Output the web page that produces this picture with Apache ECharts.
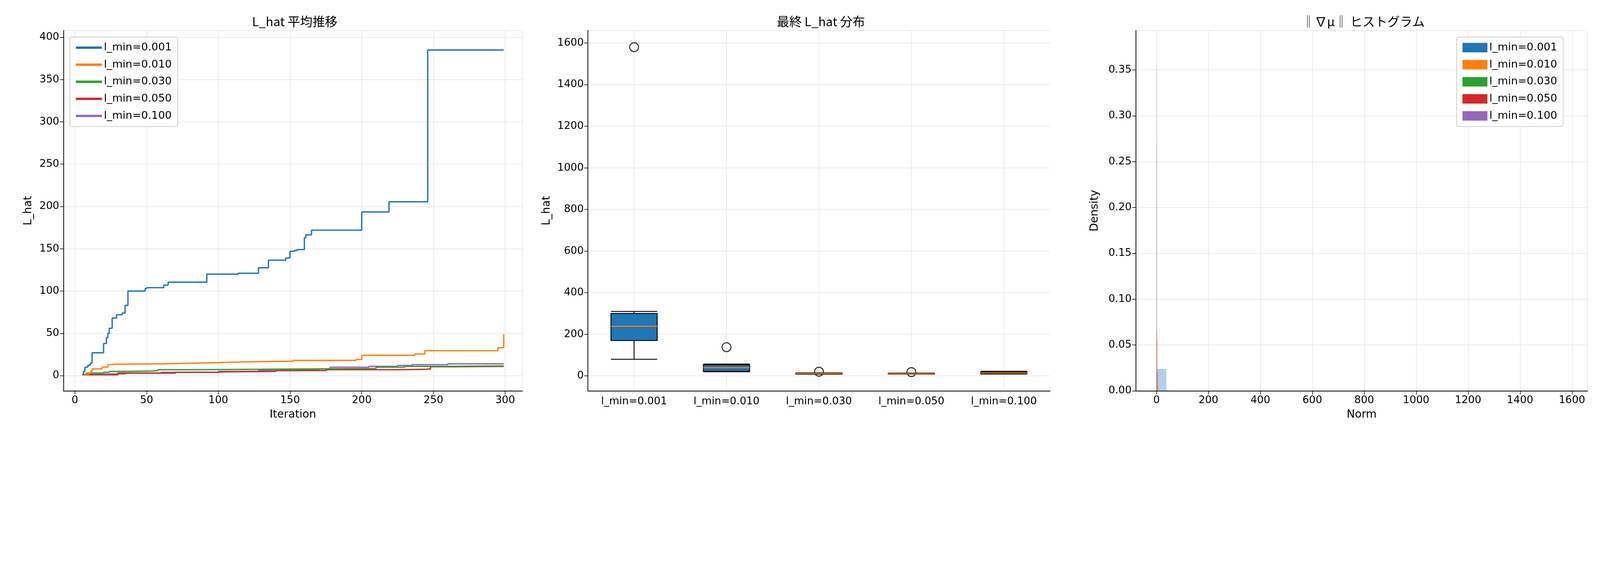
<!DOCTYPE html>
<html><head><meta charset="utf-8">
<script src="https://cdn.jsdelivr.net/npm/echarts@6/dist/echarts.min.js"></script>
<style>html,body{margin:0;background:#fff;overflow:hidden}#main{width:100vw;height:100vh}</style>
</head><body><div id="main"></div>
<script>
var names = ['l_min=0.001','l_min=0.010','l_min=0.030','l_min=0.050','l_min=0.100'];
var colors = ['#1f77b4','#ff7f0e','#2ca02c','#d62728','#9467bd'];
// step change points [iteration, L_hat]
var line001 = [[5,1],[6,5],[7,10],[9,12],[10,13],[11,15],[12,27],[20,38],[22,45],[23,50],[24,56],[26,68],[29,72],[33,74],[35,83],[37,100],[49,103],[50,104],[62,107],[65,110.5],[92,120],[114,121],[128,127.5],[135,136.5],[147,139],[150,147],[153,148],[155,149],[160,163],[161,166.5],[165,172],[200,193.5],[219,205.5],[246,385],[299,385]];
var line010 = [[5,1],[7,2],[10,3],[11,5],[12,8],[19,10],[23,13],[26,13.5],[27,14],[61,14.5],[75,15],[93,15.5],[100,16],[112,16.5],[128,17],[152,18],[196,19],[200,24],[237,25.5],[244,29.5],[295,33],[299,49]];
var line030 = [[5,1],[8,3],[20,4],[24,5],[35,5.5],[54,6],[58,7],[80,7.5],[130,8],[175,8.5],[210,10],[230,11],[265,11.5],[299,11.5]];
var line050 = [[5,1],[30,3],[70,4],[100,4.5],[105,5],[140,6],[175,7],[225,7.5],[245,8],[248,10.5],[265,11],[299,11]];
var line100 = [[5,1],[10,2],[35,3],[60,4],[100,5],[128,6],[155,7],[170,8],[178,10],[205,11],[225,12],[235,13],[260,14],[299,14]];
var lines = [line001,line010,line030,line050,line100];
// boxplot [min,Q1,median,Q3,max]
var boxStats = [[80,170,238,300,310],[20,22,40,53,57],[8,9,11,13,14],[8,9,10,12,13],[9,10,14,19,22]];
var outliers = [[0,1580],[1,138],[2,20],[3,18]];
// histogram bins [left,right,density]
var hist001 = [[0,38,0.024],[38,76,0.0004]];
var hist010 = [[0,2,0.062],[2,4,0.055],[4,6,0.02],[6,8,0.008],[8,10,0.003]];
var hist030 = [[0,1,0.355],[1,2,0.02]];
var hist050 = [[0,1,0.27],[1,2,0.062],[2,3,0.02]];
var hist100 = [[0,1,0.2],[1,2,0.03]];
var hists = [hist001,hist010,hist030,hist050,hist100];

var W = window.innerWidth, H = window.innerHeight, s = W / 5400;
var FONT = 'DejaVu Sans';
var tk = {fontSize:35*s,color:'#000',fontFamily:FONT};
function px(v){return v*s;}
var grids = [{left:px(214),top:px(103),width:px(1549),height:px(1216)},
  {left:px(1984),top:px(103),width:px(1560),height:px(1216)},
  {left:px(3833),top:px(103),width:px(1525),height:px(1216)}];
function ax(o,lab){
  return Object.assign({type:'value',axisLine:{show:true,onZero:false,lineStyle:{color:'#000',width:2.5*s}},
    axisTick:{show:true,length:12*s,lineStyle:{color:'#000',width:2*s}},axisLabel:Object.assign({margin:14*s},tk,lab||{}),
    splitLine:{show:true,lineStyle:{color:'#e5e5e5',width:2*s}},nameLocation:'middle',
    nameTextStyle:{fontSize:37*s,color:'#000',fontFamily:FONT}},o);
}
var series = [];
lines.forEach(function(d,i){
  series.push({type:'line',name:names[i],xAxisIndex:0,yAxisIndex:0,data:d,step:'end',symbol:'none',lineStyle:{width:4.5*s,color:colors[i]},itemStyle:{color:colors[i]},z:10-i});
});
// vertical grid lines at category centres
series.push({type:'custom',xAxisIndex:1,yAxisIndex:1,data:names.map(function(n,i){return [i,0];}),z:0,silent:true,
  renderItem:function(p,api){
    var c=api.coord([api.value(0),0]),cs=p.coordSys;
    return {type:'line',shape:{x1:c[0],y1:cs.y,x2:c[0],y2:cs.y+cs.height},style:{stroke:'#e5e5e5',lineWidth:2*s}};
  },encode:{x:0,y:1}});
series.push({type:'boxplot',xAxisIndex:1,yAxisIndex:1,data:boxStats,boxWidth:['50%','50%'],itemStyle:{color:'#1f77b4',borderColor:'#000',borderWidth:3*s}});
series.push({type:'custom',xAxisIndex:1,yAxisIndex:1,data:boxStats.map(function(b,i){return [i,b[2]];}),z:5,renderItem:function(p,api){
  var w=api.size([1,0])[0]*0.5,c=api.coord([api.value(0),api.value(1)]);
  return {type:'line',shape:{x1:c[0]-w/2,y1:c[1],x2:c[0]+w/2,y2:c[1]},style:{stroke:'#ff7f0e',lineWidth:3.5*s}};
},encode:{x:0,y:1}});
series.push({type:'scatter',xAxisIndex:1,yAxisIndex:1,data:outliers,symbol:'circle',symbolSize:30*s,itemStyle:{color:'rgba(0,0,0,0)',borderColor:'#000',borderWidth:3.5*s}});
hists.forEach(function(d,i){
  series.push({type:'custom',name:names[i],xAxisIndex:2,yAxisIndex:2,data:d,itemStyle:{color:colors[i],opacity:0.35},
    encode:{x:[0,1],y:2},renderItem:function(p,api){
      var a=api.coord([api.value(0),api.value(2)]),b=api.coord([api.value(1),0]);
      return {type:'rect',shape:{x:a[0],y:a[1],width:Math.max(b[0]-a[0],1.5*s),height:b[1]-a[1]},style:{fill:colors[i],opacity:0.35}};
    }});
});
var legBase = {orient:'vertical',itemGap:22*s,textStyle:{fontSize:36*s,color:'#000',fontFamily:FONT},backgroundColor:'#fff',borderColor:'#ccc',borderWidth:2.5*s,borderRadius:6*s,padding:[18*s,20*s,18*s,20*s]};
var tStyle = {fontSize:42*s,fontWeight:'normal',color:'#000',fontFamily:'Noto Sans CJK JP'};
function every(n){return function(v){return Math.abs(v/n-Math.round(v/n))<1e-6?String(v):'';};}
var option = {
  animation:false,
  title:[
    {text:'L_hat 平均推移',left:px(988),top:px(45),textAlign:'center',textStyle:tStyle},
    {text:'最終 L_hat 分布',left:px(2764),top:px(45),textAlign:'center',textStyle:tStyle},
    {text:'‖∇μ‖ ヒストグラム',left:px(4595),top:px(45),textAlign:'center',textStyle:tStyle}
  ],
  legend:[
    Object.assign({left:px(236),top:px(125),data:names.slice(),itemWidth:88*s,itemHeight:8*s,icon:'rect'},legBase),
    Object.assign({left:px(4916),top:px(125),data:names.slice(),itemWidth:84*s,itemHeight:32*s,icon:'rect'},legBase)
  ],
  grid:grids,
  xAxis:[
    ax({gridIndex:0,min:-8,max:312,splitNumber:7,name:'Iteration',nameGap:62*s},{showMinLabel:false,showMaxLabel:false,formatter:every(50)}),
    {type:'category',gridIndex:1,data:names,boundaryGap:true,axisLine:{onZero:false,lineStyle:{color:'#000',width:2.5*s}},
      axisTick:{alignWithLabel:true,length:12*s,lineStyle:{color:'#000',width:2*s}},axisLabel:Object.assign({margin:18*s},tk),
      splitLine:{show:false}},
    ax({gridIndex:2,min:-80,max:1660,splitNumber:9,name:'Norm',nameGap:62*s},{showMinLabel:false,showMaxLabel:false,formatter:every(200)})
  ],
  yAxis:[
    ax({gridIndex:0,min:-18,max:408,splitNumber:9,name:'L_hat',nameGap:100*s},{showMinLabel:false,showMaxLabel:false,formatter:every(50)}),
    ax({gridIndex:1,min:-72,max:1660,splitNumber:9,name:'L_hat',nameGap:120*s},{showMinLabel:false,showMaxLabel:false,formatter:every(200)}),
    ax({gridIndex:2,min:0,max:0.393,splitNumber:8,name:'Density',nameGap:120*s},{showMaxLabel:false,formatter:function(v){var r=v/0.05;return Math.abs(r-Math.round(r))<1e-6?v.toFixed(2):'';}})
  ],
  series:series
};
var chart = echarts.init(document.getElementById('main'));
chart.setOption(option);
</script></body></html>
